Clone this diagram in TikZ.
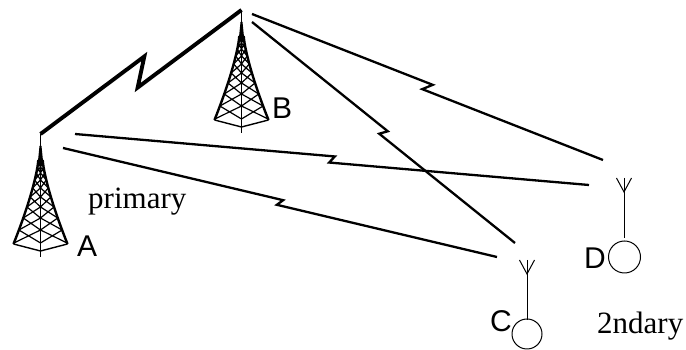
\documentclass[tikz,border=0pt]{standalone}
\usepackage{fontspec}
\setmainfont{Liberation Serif}
\newfontfamily\labelsans{Liberation Sans}
\usetikzlibrary{calc}

\tikzset{
  % lattice radio mast, origin at the tip of its antenna
  tower/.pic={
    \draw[line width=1.3pt] (0,0) -- (0,-14);
    \fill (-1,-12) -- (1,-12) -- (2.8,-30) -- (-2.8,-30) -- cycle;
    \draw[leg] plot[domain=0:1, samples=25] ({-(2.2+24.8*(\x)^1.35)},{-26-84*\x});
    \draw[leg] plot[domain=0:1, samples=25] ({2.2+24.8*(\x)^1.35},{-26-84*\x});
    \draw[line width=1.8pt] (0,-14) -- (0,-123);
    \draw[line width=1.4pt] (-27,-110) -- (0,-117) -- (27,-110);
    \foreach \a/\b in {-28/-33,-33/-39,-39/-46,-46/-54,-54/-63,-63/-73,-73/-84,-84/-96,-96/-109}{
      \pgfmathsetmacro\wa{2.2+24.8*((-26-(\a))/84)^1.35}
      \pgfmathsetmacro\wb{2.2+24.8*((-26-(\b))/84)^1.35}
      \draw[lattice] (-\wa,\a) -- (0,\b) (0,\a) -- (-\wb,\b)
                     (\wa,\a) -- (0,\b) (0,\a) -- (\wb,\b);
    }
  },
  % small handset antenna, origin at the tip of its whip
  handheld/.pic={
    \draw[whip] (0,0) -- (0,-60);
    \draw[whip] (-7.5,0) -- (0,-14) -- (7.5,0);
  }
}

\begin{document}
\begin{tikzpicture}[x=1pt,y=1pt,
  link/.style={line width=2.3pt},
  mainlink/.style={line width=3.9pt},
  bolt/.style n args={3}{to path={
    -- ($(\tikztostart)!#1!(\tikztotarget)!#2!(\tikztotarget)!#3!90:(\tikztotarget)$)
    -- ($(\tikztostart)!#1!(\tikztotarget)!-#2!(\tikztotarget)!-#3!90:(\tikztotarget)$)
    -- (\tikztotarget)}},
  lattice/.style={line width=1.2pt},
  leg/.style={line width=2.4pt},
  whip/.style={line width=1pt},
  tag/.style={font=\labelsans\fontsize{30}{32}\selectfont, anchor=base west, inner sep=0pt},
  word/.style={font=\fontsize{31}{34}\selectfont, anchor=base west, inner sep=0pt},
  handset/.style={circle, draw, line width=1pt, inner sep=0pt, minimum size=30pt},
]
\useasboundingbox (0,0) rectangle (686,350);

% base stations
\coordinate (A) at (40.5,216);
\coordinate (B) at (241.5,340);
\pic at (A) {tower};
\pic at (B) {tower};

% mobile units
\coordinate (C) at (527,90);
\coordinate (D) at (624,172);
\pic at (C) {handheld};
\pic at (D) {handheld};
\node[handset] (Cph) at (527,16) {};
\node[handset, minimum size=32pt] (Dph) at (624.5,93) {};

% connector ends
\coordinate (Ad) at ($(A)+(34.5,0)$);
\coordinate (Ac) at ($(A)+(22.5,-14)$);
\coordinate (Bd) at ($(B)+(10.5,-4)$);
\coordinate (Bc) at ($(B)+(10.5,-12)$);
\coordinate (Cb) at ($(C)+(-12,17)$);
\coordinate (Ca) at ($(C)+(-30,3)$);
\coordinate (Db) at ($(D)+(-21,18)$);
\coordinate (Da) at ($(D)+(-35,-7)$);

% radio links
\draw[mainlink] (B) to[bolt={0.5}{11pt}{11.5pt}] (A);
\draw[link] (Bd) to[bolt={0.5}{4pt}{4pt}] (Db);
\draw[link] (Bc) to[bolt={0.5}{2.5pt}{3.7pt}] (Cb);
\draw[link] (Ad) to[bolt={0.5}{2.5pt}{3.3pt}] (Da);
\draw[link] (Ac) to[bolt={0.5}{2.5pt}{3pt}] (Ca);

% labels
\node[tag] (la) at (77,93) {A};
\node[tag] (lb) at (272,231) {B};
\node[tag] (lc) at (490,18) {C};
\node[tag] (ld) at (584,81) {D};
\node[word] (prim) at (88,141) {primary};
\node[word] (sec) at (597,16) {2ndary};
\end{tikzpicture}
\end{document}
